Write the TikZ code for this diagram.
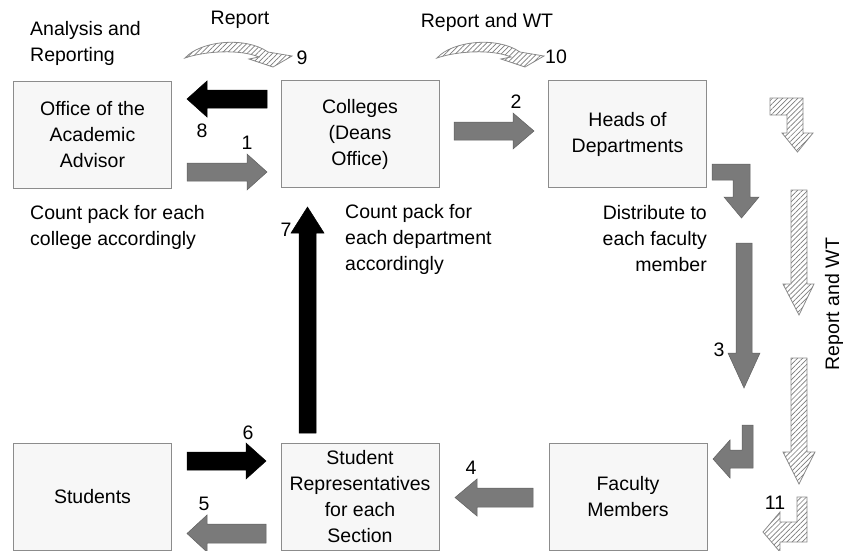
\documentclass[tikz,border=0pt]{standalone}
\usepackage{fontspec}
\setmainfont{Liberation Sans}
\usetikzlibrary{patterns.meta}
\definecolor{boxfill}{RGB}{247,247,247}
\definecolor{boxline}{RGB}{140,140,140}
\definecolor{arrgray}{RGB}{122,122,122}
\definecolor{arrline}{RGB}{95,95,95}
\definecolor{hatchline}{RGB}{125,125,125}
\definecolor{hatchborder}{RGB}{140,140,140}
\tikzset{
  box/.style={draw=boxline, fill=boxfill, line width=0.9pt, minimum width=158pt, minimum height=107pt, inner sep=0pt, align=center, font=\fontsize{19.5}{26}\selectfont},
  txt/.style={inner sep=0pt, font=\fontsize{19.5}{26}\selectfont},
  num/.style={inner sep=0pt, font=\fontsize{19.5}{26}\selectfont},
  grayarrow/.style={fill=arrgray, draw=arrline, line width=0.5pt, line join=miter},
  blackarrow/.style={fill=black, draw=black, line width=0.5pt},
  hatcharrow/.style={fill=white, postaction={pattern={Lines[angle=45,distance=3.6pt,line width=0.7pt]}, pattern color=hatchline}, draw=hatchborder, line width=0.8pt},
  curvedhatch/.pic={
    \path[hatcharrow] (185,58) .. controls (200,41) and (245,36) .. (268,52) -- (292,56) -- (273,67) -- (249,59) -- (259,57) .. controls (240,49) and (205,51) .. (185,58) -- cycle;
  }
}
\begin{document}
\begin{tikzpicture}[x=1pt,y=-1pt]
\useasboundingbox (0,0) rectangle (843,550);
\clip (0,0) rectangle (843,550);

% boxes
\node[box] (office) at (92.5,134.5) {Office of the\\Academic\\Advisor};
\node[box] (colleges) at (360,134) {Colleges\\(Deans\\Office)};
\node[box] (heads) at (627.5,134) {Heads of\\Departments};
\node[box] (students) at (92.5,497) {Students};
\node[box] (reps) at (360,497) {Student\\Representatives\\for each\\Section};
\node[box] (faculty) at (628,497) {Faculty\\Members};

% free texts
\node[txt, anchor=west, align=left] (analysis) at (30,43.5) {Analysis and\\Reporting};
\node[txt] (report) at (240,20) {Report};
\node[txt] (reportwt) at (487,22) {Report and WT};
\node[txt, anchor=west, align=left] (countcol) at (30,227) {Count pack for each\\college accordingly};
\node[txt, anchor=west, align=left] (countdep) at (345,239) {Count pack for\\each department\\accordingly};
\node[txt, anchor=east, align=right] (distribute) at (707,239) {Distribute to\\each faculty\\member};
\node[txt, rotate=90] (reportwt2) at (834,304) {Report and WT};

% curved hatched arrows
\pic at (0,0) {curvedhatch};
\pic at (252,0) {curvedhatch};
\node[num] (n9) at (302,58) {9};
\node[num] (n10) at (556,57) {10};

% top row arrows
\path[blackarrow] (267,90)--(207,90)--(207,81)--(187,99)--(207,117)--(207,108)--(267,108)--cycle;
\node[num] (n8) at (202,131) {8};
\path[grayarrow] (187,163)--(247,163)--(247,154)--(267,172)--(247,190)--(247,181)--(187,181)--cycle;
\node[num] (n1) at (247,143) {1};
\path[grayarrow] (454,122)--(513,122)--(513,113)--(534,131)--(513,149)--(513,140)--(454,140)--cycle;
\node[num] (n2) at (516,102) {2};

% arrow 7
\path[blackarrow] (299,433)--(299,233)--(291,233)--(307.5,207)--(324,233)--(316,233)--(316,433)--cycle;
\node[num] (n7) at (286,230) {7};

% bottom row arrows
\path[blackarrow] (187,452)--(246,452)--(246,443)--(266,461)--(246,479)--(246,470)--(187,470)--cycle;
\node[num] (n6) at (248,433) {6};
\path[grayarrow] (266,524)--(207,524)--(207,515)--(187,533.5)--(207,552)--(207,543)--(266,543)--cycle;
\node[num] (n5) at (204,504) {5};
\path[grayarrow] (533,488)--(477,488)--(477,479)--(455,497.5)--(477,516)--(477,507)--(533,507)--cycle;
\node[num] (n4) at (471,468) {4};

% right side gray arrows
\path[grayarrow] (712,164)--(750,164)--(750,197)--(759,197)--(741.5,218)--(724,197)--(733,197)--(733,180)--(712,180)--cycle;
\path[grayarrow] (736,243)--(752,243)--(752,353)--(760,353)--(744,388)--(728,353)--(736,353)--cycle;
\node[num] (n3) at (719,350) {3};
\path[grayarrow] (742,425)--(753,425)--(753,468)--(730,468)--(730,478)--(713,459)--(730,440)--(730,450)--(742,450)--cycle;

% right side hatched arrows
\path[hatcharrow] (770,98)--(803,98)--(803,133)--(813,133)--(797.5,152)--(782,133)--(787,133)--(787,115)--(770,115)--cycle;
\path[hatcharrow] (791,190)--(807,190)--(807,284)--(814,284)--(799,315)--(783,284)--(791,284)--cycle;
\path[hatcharrow] (791,358)--(807,358)--(807,452)--(815,452)--(799,484)--(783,452)--(791,452)--cycle;
\path[hatcharrow] (797,497)--(807,497)--(807,542)--(780,542)--(780,552)--(763,532)--(780,512)--(780,522)--(797,522)--cycle;
\node[num] (n11) at (775,503) {11};
\end{tikzpicture}
\end{document}
